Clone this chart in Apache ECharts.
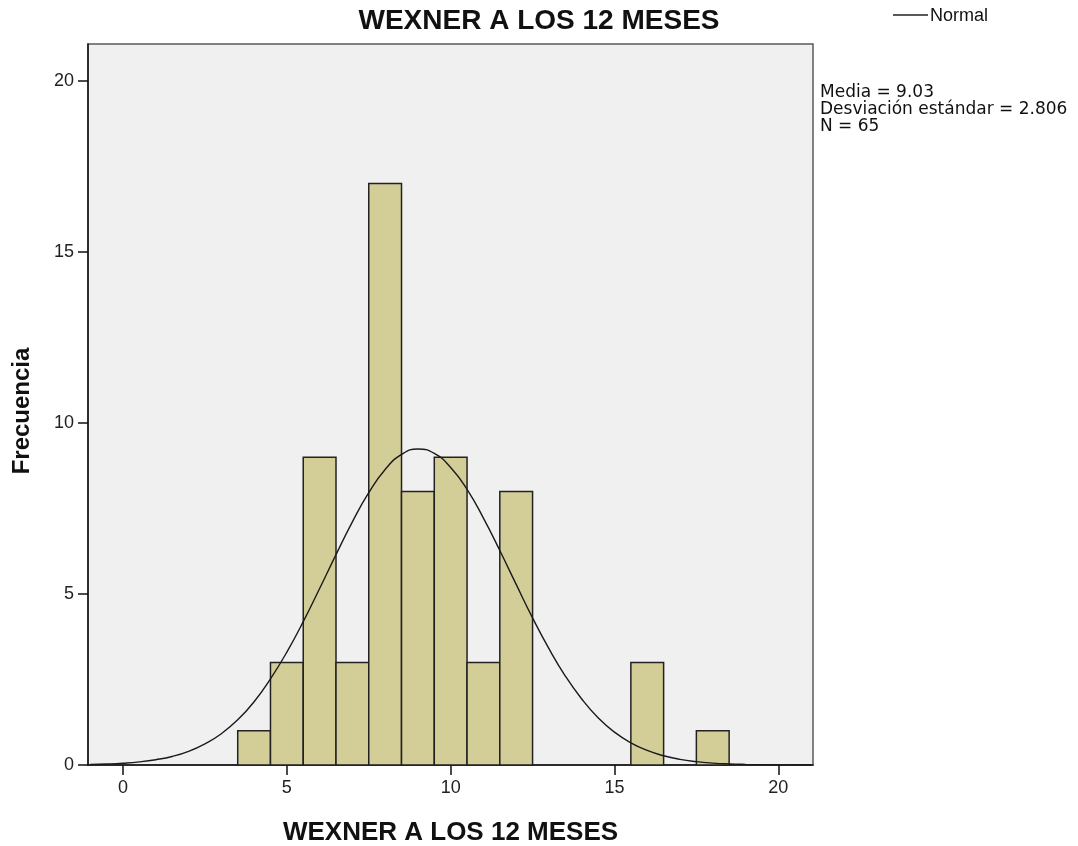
<!DOCTYPE html>
<html>
<head>
<meta charset="utf-8">
<script src="https://cdn.jsdelivr.net/npm/echarts@6/dist/echarts.min.js"></script>
<style>html,body{margin:0;padding:0;background:#fff}#c{width:1078px;height:846px}</style>
</head>
<body>
<div id="c"></div>
<script>
// Histogram bins (bin centers, width 1) and frequencies
var binCenters = [4, 5, 6, 7, 8, 9, 10, 11, 12, 16, 18];
var frequencies = [1, 3, 9, 3, 17, 8, 9, 3, 8, 3, 1];
var binWidth = 1;
// Normal curve (x, expected frequency)
var curveX = [-1,-0.5,0,0.5,1,1.5,2,2.5,3,3.5,4,4.5,5,5.5,6,6.5,7,7.5,8,8.5,9,9.5,10,10.5,11,11.5,12,12.5,13,13.5,14,14.5,15,15.5,16,16.5,17,17.5,18,18.5,19,19.5,20,20.5,21];
var curveY = [0.016,0.029,0.052,0.091,0.155,0.25,0.40,0.62,0.915,1.32,1.85,2.52,3.30,4.19,5.16,6.15,7.11,7.96,8.64,9.08,9.24,9.11,8.70,8.06,7.22,6.27,5.28,4.30,3.40,2.60,1.93,1.38,0.96,0.65,0.425,0.27,0.164,0.098,0.056,0.031,0.017,0.009,0.004,0.002,0.001];
var xTicks = [0, 5, 10, 15, 20];
var yTicks = [0, 5, 10, 15, 20];
var titleText = 'WEXNER A LOS 12 MESES';
var xName = 'WEXNER A LOS 12 MESES';
var yName = 'Frecuencia';
var legendName = 'Normal';
var statsLines = ['Media = 9.03', 'Desviación estándar = 2.806', 'N = 65'];

var histData = binCenters.map(function (c, i) { return [c, frequencies[i]]; });
var curveData = curveX.map(function (x, i) { return [x, curveY[i]]; });

var chart = echarts.init(document.getElementById('c'), null, {renderer: 'canvas'});
var lab = {fontFamily: 'Liberation Sans', fontSize: 18, color: '#222'};
chart.setOption({
  animation: false,
  backgroundColor: '#ffffff',
  grid: {left: 88, right: 265, top: 44, bottom: 81, show: true, backgroundColor: '#f0f0f0', borderColor: '#5a5a5a', borderWidth: 1.5},
  xAxis: {
    type: 'value', min: -1.07, max: 21.06, interval: 5,
    axisLine: {show: true, onZero: false, lineStyle: {color: '#111', width: 1.5}},
    axisTick: {show: true, length: 10, lineStyle: {color: '#111', width: 1.5}, customValues: xTicks},
    axisLabel: Object.assign({margin: 14, customValues: xTicks}, lab),
    splitLine: {show: false}
  },
  yAxis: {
    type: 'value', min: 0, max: 21.08, interval: 5,
    axisLine: {show: true, onZero: false, lineStyle: {color: '#111', width: 1.5}},
    axisTick: {show: true, length: 10, lineStyle: {color: '#111', width: 1.5}, customValues: yTicks},
    axisLabel: Object.assign({margin: 14, customValues: yTicks}, lab),
    splitLine: {show: false}
  },
  series: [
    {
      type: 'custom',
      data: histData,
      z: 2,
      renderItem: function (params, api) {
        var c = api.value(0), v = api.value(1);
        var p1 = api.coord([c - binWidth / 2, v]);
        var p2 = api.coord([c + binWidth / 2, 0]);
        return {
          type: 'rect',
          shape: {x: p1[0], y: p1[1], width: p2[0] - p1[0], height: p2[1] - p1[1]},
          style: {fill: '#d3ce97', stroke: '#222', lineWidth: 1.5}
        };
      }
    },
    {
      type: 'line', data: curveData, smooth: true, showSymbol: false, symbol: 'none', z: 3,
      lineStyle: {color: '#1a1a1a', width: 1.4}, clip: true
    }
  ],
  graphic: [
    {type: 'text', x: 539, y: 21, style: {text: titleText, fontFamily: 'Liberation Sans', fontWeight: 'bold', fontSize: 28, fill: '#111', align: 'center', verticalAlign: 'middle'}},
    {type: 'text', x: 450.5, y: 833, style: {text: xName, fontFamily: 'Liberation Sans', fontWeight: 'bold', fontSize: 26, fill: '#111', align: 'center', verticalAlign: 'middle'}},
    {type: 'text', x: 22.5, y: 411, rotation: Math.PI / 2, style: {text: yName, fontFamily: 'Liberation Sans', fontWeight: 'bold', fontSize: 24, fill: '#111', align: 'center', verticalAlign: 'middle'}},
    {type: 'line', shape: {x1: 893, y1: 15, x2: 928, y2: 15}, style: {stroke: '#222', lineWidth: 1.4}},
    {type: 'text', x: 930, y: 16, style: {text: legendName, fontFamily: 'Liberation Sans', fontSize: 18, fill: '#111', align: 'left', verticalAlign: 'middle'}},
    {type: 'text', x: 820, y: 84, style: {text: statsLines.join('\n'), fontFamily: 'DejaVu Sans', fontSize: 17, lineHeight: 17, fill: '#111', align: 'left', verticalAlign: 'top'}}
  ]
});
</script>
</body>
</html>
